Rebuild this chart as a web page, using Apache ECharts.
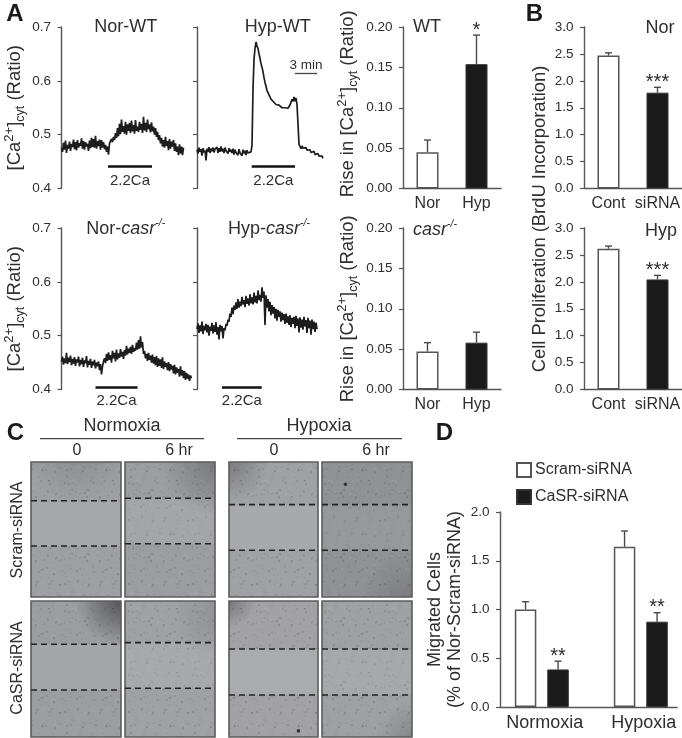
<!DOCTYPE html>
<html><head><meta charset="utf-8">
<style>html,body{margin:0;padding:0;background:#fff}#c{width:682px;height:738px}</style>
<script src="https://cdn.jsdelivr.net/npm/echarts@6/dist/echarts.min.js"></script>
</head><body><div id="c"></div>
<script>
// ---------- Panel A: calcium traces (one sample per time step) ----------
const traceNorWT = [
.476,.468,.485,.472,.489,.466,.481,.474,.487,.470,.483,.477,.491,.473,.486,.471,.490,.476,.484,.479,
.493,.474,.488,.472,.486,.478,.483,.470,.489,.475,.494,.477,.492,.476,.498,.474,.488,.479,.491,.472,
.490,.476,.486,.473,.481,.468,.478,.463,.484,.481,.492,.486,.496,.490,.503,.494,.512,.497,.520,.501,
.528,.505,.516,.502,.524,.500,.519,.507,.522,.503,.526,.506,.518,.502,.527,.507,.515,.505,.524,.509,
.520,.503,.533,.508,.522,.505,.528,.510,.519,.504,.523,.506,.515,.500,.512,.496,.505,.490,.499,.484,
.494,.478,.490,.476,.496,.479,.488,.471,.492,.474,.487,.478,.490,.470,.484,.468,.478,.462,.482,.465,
.478,.462,.476];
const traceHypWT = [
.472,.465,.476,.468,.473,.461,.475,.467,.471,.452,.474,.468,.477,.466,.474,.469,.476,.467,.473,.470,
.477,.466,.475,.468,.478,.469,.474,.466,.476,.470,.473,.465,.475,.468,.472,.466,.474,.463,.472,.467,
.470,.462,.473,.466,.469,.461,.472,.465,.470,.462,.471,.466,.469,.463,.468,.480,.585,.640,.660,.672,
.665,.660,.650,.642,.632,.625,.617,.606,.597,.590,.582,.578,.574,.570,.566,.568,.562,.560,.561,.556,
.558,.554,.555,.552,.553,.550,.552,.549,.550,.548,.551,.549,.552,.555,.560,.566,.562,.570,.562,.568,
.556,.520,.482,.478,.474,.479,.475,.477,.472,.476,.471,.474,.468,.472,.467,.470,.465,.469,.463,.466,
.461,.465,.460,.463,.457,.460,.456];
const traceNorCasr = [
.452,.461,.446,.458,.449,.468,.447,.459,.451,.463,.445,.457,.448,.460,.444,.456,.450,.461,.443,.455,
.447,.459,.442,.454,.449,.462,.441,.453,.446,.457,.440,.452,.445,.455,.439,.450,.443,.452,.436,.447,
.428,.443,.452,.458,.449,.466,.453,.469,.455,.464,.450,.472,.458,.468,.452,.474,.456,.467,.459,.475,
.461,.470,.457,.473,.463,.481,.465,.476,.468,.479,.466,.483,.470,.477,.472,.487,.474,.492,.476,.499,
.478,.488,.466,.472,.458,.466,.453,.468,.455,.463,.450,.465,.448,.460,.445,.462,.442,.458,.444,.456,
.440,.460,.438,.452,.442,.449,.436,.451,.434,.447,.437,.444,.430,.446,.428,.441,.431,.438,.424,.443,
.426,.436,.421,.434,.418,.431,.420,.428,.416,.426,.421];
const traceHypCasr = [
.512,.523,.505,.519,.508,.526,.503,.518,.510,.522,.506,.520,.500,.517,.509,.524,.504,.519,.507,.525,
.502,.516,.493,.520,.508,.518,.495,.514,.510,.522,.518,.530,.526,.541,.535,.552,.540,.556,.548,.562,
.550,.568,.552,.563,.555,.572,.558,.566,.553,.574,.559,.569,.556,.577,.560,.571,.558,.580,.562,.574,
.560,.584,.566,.576,.563,.590,.570,.582,.520,.575,.552,.568,.545,.563,.538,.557,.541,.553,.532,.550,
.528,.548,.535,.545,.526,.543,.529,.540,.522,.541,.524,.536,.520,.538,.516,.533,.522,.535,.514,.537,
.518,.532,.506,.534,.515,.530,.511,.535,.517,.529,.505,.533,.514,.528,.502,.530,.512,.526,.507,.524,.512];
const stimStart = [46.5,54.7,34,25];
const stimEnd   = [90.5,98,76,64.7];
const stimLevel = [.4405,.4405,.4045,.4045];
const stimLabel = '2.2Ca';
const traceTicks = [0.4,0.7,0.1];

// ---------- Panel A right: rise in calcium ----------
const riseCats = ['Nor','Hyp'];
const riseWT = [.045,.154];       const riseWTTop = [.060,.190];     const riseWTStars = ['','*'];
const riseCasr = [.047,.058];     const riseCasrTop = [.058,.071];   const riseCasrStars = ['',''];

// ---------- Panel B: proliferation ----------
const prolifCats = ['Cont','siRNA'];
const prolifNor = [2.47,1.78];    const prolifNorTop = [2.52,1.88];  const prolifNorStars = ['','***'];
const prolifHyp = [2.615,2.045];  const prolifHypTop = [2.665,2.12]; const prolifHypStars = ['','***'];

// ---------- Panel D: migration ----------
const migCats = ['Normoxia','Hypoxia'];
const migScram = [1.0,1.643];     const migScramTop = [1.08,1.805];
const migCasr = [.385,.875];      const migCasrTop = [.47,.967];     const migCasrStars = ['**','**'];

// ---------- Panel C: wound edges, percent of image height ----------
const woundEdges = [[28.7,62.2],[26.9,60.6],[31.6,65.4],[31.6,65.4],[31.8,65.4],[30.6,64.2],[35.3,69.1],[35.3,69.1]];
const imageTone = ['#a6a7aa','#a4a5a8','#a8a9ac','#97989b','#a4a5a8','#a8a9ac','#aaabae','#a7a8ab'];
// hand-placed dark patch per image: centre x, centre y, radius (fractions), strength
const imageShade = [[.5,-.1,.6,.16],[1,0,.6,.3],[0,0,.45,.3],[1,1.05,.6,.22],[1,0,.5,.62],[1,.1,.5,.12],[0,0,.3,.35],[1,1,.4,.2]];
const imageSpots = [null,null,null,[.26,.165],null,null,[.78,.955],null];
const specks = [[5,6,.8,.26],[14,3,.6,.2],[25,9,.9,.3],[37,4,.6,.22],[50,8,.8,.26],[60,13,.6,.18],[9,16,.6,.2],[20,20,.8,.26],
[32,17,.6,.2],[43,22,1,.3],[55,24,.7,.22],[3,29,.9,.26],[15,33,.6,.2],[27,30,.7,.24],[38,36,.6,.2],[49,33,.8,.26],[61,37,.6,.2],
[8,42,.7,.22],[21,45,.9,.3],[33,43,.6,.18],[44,48,.7,.24],[56,46,.9,.26],[4,54,.6,.2],[16,57,.8,.24],[28,53,.6,.2],[39,60,.9,.28],[51,56,.6,.2],[62,59,.7,.22]];

const TEXT='#2e2e2e', AXIS='#555', INK='#1b1b1b';
const FONT='"Liberation Sans", Arial, sans-serif';

const grid=[],xAxis=[],yAxis=[],series=[],graphic=[];
function addGrid(g,x,y){grid.push(Object.assign({outerBoundsMode:'none'},g));const i=grid.length-1;xAxis.push(Object.assign({gridIndex:i},x));yAxis.push(Object.assign({gridIndex:i},y));return i;}
const baseRich={b:{fontSize:18.5,lineHeight:24,color:TEXT,fontFamily:FONT},sup:{fontSize:13,lineHeight:24,verticalAlign:'top',color:TEXT,fontFamily:FONT},sub:{fontSize:12.5,lineHeight:24,verticalAlign:'bottom',color:TEXT,fontFamily:FONT},d:{fontSize:18,lineHeight:20,color:TEXT,fontFamily:FONT}};
function valAxis(min,max,interval,dec,name,gap,showLabels,namePad){
  return {type:'value',min,max,interval,splitLine:{show:false},
    axisLine:{show:true,onZero:false,lineStyle:{color:AXIS,width:1.4}},
    axisTick:{show:true,length:4,lineStyle:{color:AXIS,width:1.2}},
    axisLabel:{show:showLabels!==false,margin:10.5,fontSize:13.5,color:TEXT,fontFamily:FONT,formatter:v=>v.toFixed(dec)},
    name:name||'',nameLocation:'middle',nameGap:gap||0,nameMoveOverlap:false,nameTextStyle:{rich:baseRich,fontSize:18,color:TEXT,fontFamily:FONT,padding:namePad||0}};
}
const caName='{b|[Ca}{sup|2+}{b|]}{sub|cyt}{b| (Ratio)}';
const riseName='{b|Rise in [Ca}{sup|2+}{b|]}{sub|cyt}{b| (Ratio)}';

// traces
[[traceNorWT,61.5,27],[traceHypWT,197,27],[traceNorCasr,61.5,228],[traceHypCasr,197,228]].forEach((t,k)=>{
  const i=addGrid({left:t[1],top:t[2],width:130,height:161.5},
    {type:'value',min:0,max:130,show:false},
    valAxis(traceTicks[0],traceTicks[1],traceTicks[2],1,k%2?'':caName,34.5,k%2===0));
  const md=[[{coord:[stimStart[k],stimLevel[k]],lineStyle:{color:'#111',width:2.6,type:'solid'},
      label:{show:true,formatter:stimLabel,position:'insideMiddleBottom',distance:6.5,fontSize:15,color:TEXT,fontFamily:FONT}},
     {coord:[stimEnd[k],stimLevel[k]]}]];
  if(k===1) md.push([{coord:[98,.6145],lineStyle:{color:'#444',width:1.3,type:'solid'},
      label:{show:true,formatter:'3 min',position:'insideMiddleTop',distance:1,fontSize:13.5,color:TEXT,fontFamily:FONT}},
     {coord:[120,.6145]}]);
  series.push({type:'line',xAxisIndex:i,yAxisIndex:i,data:t[0].map((v,j)=>[j,v]),symbol:'none',animation:false,
    lineStyle:{color:'#1d1d1d',width:1.7},
    markLine:{silent:true,animation:false,symbol:'none',data:md}});
});

function errSeries(i,cats,tops,means,stars,offset){
  return {type:'custom',xAxisIndex:i,yAxisIndex:i,animation:false,silent:true,clip:false,
    data:cats.map((c,j)=>[j,means[j],tops[j]]),encode:{x:0,y:[1,2]},
    renderItem(p,api){
      const a=api.coord([api.value(0),api.value(1)]),b=api.coord([api.value(0),api.value(2)]);
      const x=a[0]+(offset||0),st={stroke:'#4a4a4a',lineWidth:1.4},s=stars&&stars[p.dataIndex];
      const ch=[{type:'line',shape:{x1:x,y1:a[1],x2:x,y2:b[1]},style:st},{type:'line',shape:{x1:x-3.5,y1:b[1],x2:x+3.5,y2:b[1]},style:st}];
      if(s) ch.push({type:'text',style:{x,y:b[1]+5,text:s,align:'center',verticalAlign:'bottom',fontSize:20,fill:TEXT,font:'20px '+FONT}});
      return {type:'group',children:ch};
    }};
}
const whiteItem={color:'#fff',borderColor:AXIS,borderWidth:1.5};
const blackItem={color:INK,borderColor:'#333',borderWidth:1};
function barPanel(left,top,cats,vals,tops,stars,max,interval,dec,name,gap,namePad){
  const i=addGrid({left,top,width:98,height:161.5},
    {type:'category',data:cats,axisTick:{show:false},axisLine:{onZero:false,lineStyle:{color:AXIS,width:1.4}},
     axisLabel:{fontSize:16,margin:7,color:TEXT,fontFamily:FONT,interval:0}},
    valAxis(0,max,interval,dec,name,gap,true,namePad));
  series.push({type:'bar',xAxisIndex:i,yAxisIndex:i,barWidth:22,animation:false,silent:true,
    data:vals.map((v,j)=>({value:v,itemStyle:j?blackItem:whiteItem}))});
  series.push(errSeries(i,cats,tops,vals,stars));
}
barPanel(403,27,riseCats,riseWT,riseWTTop,riseWTStars,.2,.05,2,riseName,43,[0,0,0,8]);
barPanel(403,228,riseCats,riseCasr,riseCasrTop,riseCasrStars,.2,.05,2,riseName,43);
barPanel(584,27,prolifCats,prolifNor,prolifNorTop,prolifNorStars,3,.5,1);
barPanel(584,228,prolifCats,prolifHyp,prolifHypTop,prolifHypStars,3,.5,1);

// Panel D: visible axes
const dAxis=addGrid({left:500,top:512,width:177,height:195},
  {type:'category',data:migCats,axisTick:{show:false},axisLabel:{show:false},axisLine:{onZero:false,lineStyle:{color:AXIS,width:1.4}}},
  valAxis(0,2,.5,1,'{d|Migrated Cells}\n{d|(% of Nor-Scram-siRNA)}',35));
// Panel D: bars share the value range, with categories spaced as in the figure
const dBars=addGrid({left:492.3,top:512,width:198,height:195},
  {type:'category',data:migCats,axisTick:{show:false},axisLine:{show:false},
   axisLabel:{fontSize:18,margin:7,padding:[0,0,0,6],color:TEXT,fontFamily:FONT,interval:0}},
  {type:'value',min:0,max:2,interval:.5,show:false});
series.push({name:'Scram-siRNA',type:'bar',xAxisIndex:dBars,yAxisIndex:dBars,barWidth:21.5,barGap:'51%',animation:false,silent:true,data:migScram,itemStyle:whiteItem});
series.push({name:'CaSR-siRNA',type:'bar',xAxisIndex:dBars,yAxisIndex:dBars,barWidth:21.5,barGap:'51%',animation:false,silent:true,data:migCasr,itemStyle:blackItem});
series.push(errSeries(dBars,migCats,migScramTop,migScram,null,-16.25));
series.push(errSeries(dBars,migCats,migCasrTop,migCasr,migCasrStars,16.25));

// Panel C: micrographs
const tile=document.createElement('canvas');tile.width=tile.height=64;
const tc=tile.getContext('2d');
[[0,0],[21,13],[44,27],[11,40]].forEach(o=>specks.forEach(s=>{const x=(s[0]+o[0])%64,y=(s[1]+o[1])%64;
  tc.fillStyle='rgba(50,50,55,'+(s[3]*.8)+')';tc.beginPath();tc.ellipse(x,y,s[2]*1.4,s[2]*.8,(s[0]%3),0,7);tc.fill();
  tc.fillStyle='rgba(205,205,210,'+(s[3]*.5)+')';tc.beginPath();tc.arc((x+30)%64,(y+11)%64,s[2],0,7);tc.fill();}));
const imgX=[31,125,229,322],imgY=[462,601],imgW=[90,90,89,90],imgH=[135,136];
woundEdges.forEach((e,n)=>{
  const c=n%4,r=n<4?0:1,L=imgX[c],T=imgY[r],W=imgW[c],H=imgH[r];
  const y1=T+H*e[0]/100,y2=T+H*e[1]/100,sh=imageShade[n];
  graphic.push({type:'rect',z:0,silent:true,shape:{x:L,y:T,width:W,height:H},style:{fill:imageTone[n]}});
  const pat={image:tile,repeat:'repeat'};
  [[T,y1-T],[y2,T+H-y2]].forEach(b=>{
    graphic.push({type:'rect',z:0,silent:true,shape:{x:L,y:b[0],width:W,height:b[1]},style:{fill:'rgba(60,60,65,.07)'}});
    graphic.push({type:'rect',z:0,silent:true,shape:{x:L,y:b[0],width:W,height:b[1]},style:{fill:pat}});
  });
  if(c%2===1) graphic.push({type:'rect',z:0,silent:true,shape:{x:L,y:y1,width:W,height:y2-y1},style:{fill:pat,opacity:.7}});
  graphic.push({type:'rect',z:0,silent:true,shape:{x:L,y:T,width:W,height:H},style:{fill:{type:'radial',x:sh[0],y:sh[1],r:sh[2],colorStops:[{offset:0,color:'rgba(40,40,45,'+sh[3]+')'},{offset:1,color:'rgba(40,40,45,0)'}]}}});
  if(imageSpots[n]) graphic.push({type:'circle',z:0,silent:true,shape:{cx:L+W*imageSpots[n][0],cy:T+H*imageSpots[n][1],r:1.8},style:{fill:'#333'}});
  graphic.push({type:'rect',z:1,silent:true,shape:{x:L,y:T,width:W,height:H},style:{fill:'none',stroke:'#5c5c5e',lineWidth:1.6}});
  const i=addGrid({left:L,top:T,width:W,height:H},{type:'value',min:0,max:1,show:false},{type:'value',min:0,max:100,inverse:true,show:false});
  e.forEach(v=>series.push({type:'line',xAxisIndex:i,yAxisIndex:i,data:[[0,v],[1,v]],symbol:'none',silent:true,animation:false,
    lineStyle:{color:'#222',width:1.6,type:[6,4]}}));
});

// Text
const tx=(text,x,y,size,o)=>graphic.push({type:'text',z:5,silent:true,x,y,style:Object.assign({text,align:'center',verticalAlign:'middle',fontSize:size,fontFamily:FONT,fill:TEXT},o||{})});
const sup7={i:{fontSize:18,fontStyle:'italic',fill:TEXT,fontFamily:FONT,lineHeight:22},r:{fontSize:18,fill:TEXT,fontFamily:FONT,lineHeight:22},s:{fontSize:10.5,fontStyle:'italic',fill:TEXT,fontFamily:FONT,verticalAlign:'top',lineHeight:20}};
tx('A',15,14,24,{fontWeight:'bold',fill:'#1a1a1a'});
tx('B',534.5,14,24,{fontWeight:'bold',fill:'#1a1a1a'});
tx('C',15.5,433,24,{fontWeight:'bold',fill:'#1a1a1a'});
tx('D',444.5,433,24,{fontWeight:'bold',fill:'#1a1a1a'});
tx('Nor-WT',125.7,27,18); tx('Hyp-WT',277.7,27,18);
tx('{r|Nor-}{i|casr}{s|-/-}',125.7,229,18,{rich:sup7});
tx('{r|Hyp-}{i|casr}{s|-/-}',269,229,18,{rich:sup7});
tx('WT',413,27,18,{align:'left'});
tx('{i|casr}{s|-/-}',413,230,18,{align:'left',rich:sup7});
tx('Nor',660,28,18); tx('Hyp',661,231,18);
graphic.push({type:'text',z:5,silent:true,x:540,y:219,rotation:Math.PI/2,style:{text:'Cell Proliferation (BrdU Incorporation)',align:'center',verticalAlign:'middle',fontSize:18.4,fontFamily:FONT,fill:TEXT}});
tx('Normoxia',122,426,18); tx('Hypoxia',319,426,18);
[[40,204],[237,402]].forEach(s=>graphic.push({type:'line',z:5,silent:true,shape:{x1:s[0],y1:438.7,x2:s[1],y2:438.7},style:{stroke:'#444',lineWidth:1.3}}));
tx('0',77,451,16); tx('6 hr',179,451,16); tx('0',274,451,16); tx('6 hr',376,451,16);
graphic.push({type:'text',z:5,silent:true,x:18,y:530,rotation:Math.PI/2,style:{text:'Scram-siRNA',align:'center',verticalAlign:'middle',fontSize:16,fontFamily:FONT,fill:TEXT}});
graphic.push({type:'text',z:5,silent:true,x:18,y:668,rotation:Math.PI/2,style:{text:'CaSR-siRNA',align:'center',verticalAlign:'middle',fontSize:16,fontFamily:FONT,fill:TEXT}});

const chart=echarts.init(document.getElementById('c'),null,{renderer:'canvas'});
chart.setOption({animation:false,backgroundColor:'#fff',grid,xAxis,yAxis,series,graphic,tooltip:{show:false},
  legend:{show:true,orient:'vertical',left:516,top:462,itemWidth:14,itemHeight:14,itemGap:11,selectedMode:false,icon:'rect',
    data:['Scram-siRNA','CaSR-siRNA'],textStyle:{fontSize:16,color:TEXT,fontFamily:FONT,padding:[0,0,0,-1]},padding:0}});
</script></body></html>
